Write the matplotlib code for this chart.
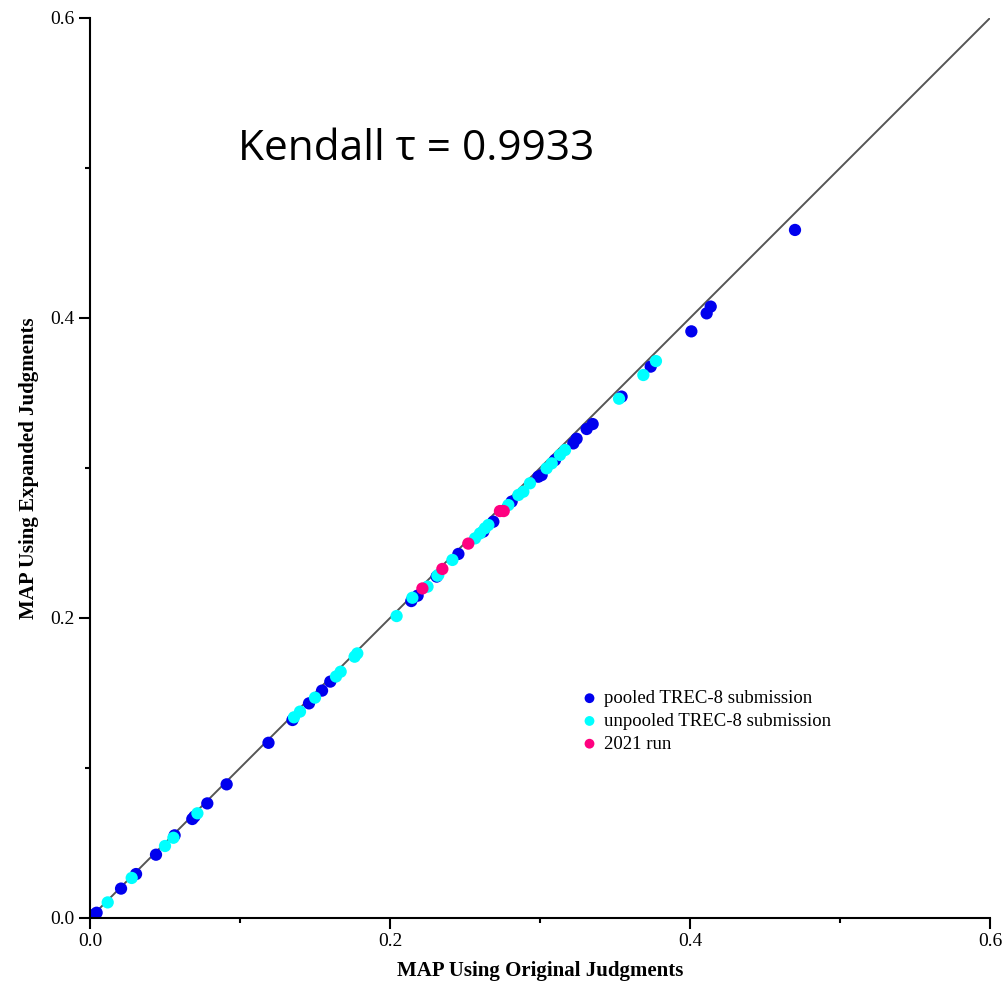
import matplotlib
matplotlib.use("Agg")
import matplotlib.pyplot as plt
from matplotlib.ticker import MultipleLocator

# pooled TREC-8 submissions (original MAP, expanded MAP)
pooled_x = [0.0027, 0.0044, 0.0207, 0.0307, 0.0440, 0.0564, 0.0682, 0.0696, 0.0782, 0.0911,
            0.1190, 0.1350, 0.1460, 0.1547, 0.1602, 0.2142, 0.2184, 0.2311, 0.2456, 0.2622,
            0.2689, 0.2811, 0.2989, 0.3011, 0.3100, 0.3222, 0.3244, 0.3311, 0.3351, 0.3544,
            0.3738, 0.4009, 0.4111, 0.4138, 0.4700]
pooled_y = [0.0022, 0.0035, 0.0196, 0.0293, 0.0422, 0.0551, 0.0660, 0.0676, 0.0764, 0.0891,
            0.1168, 0.1320, 0.1431, 0.1516, 0.1576, 0.2113, 0.2149, 0.2276, 0.2427, 0.2576,
            0.2642, 0.2776, 0.2942, 0.2953, 0.3053, 0.3164, 0.3195, 0.3260, 0.3293, 0.3476,
            0.3676, 0.3911, 0.4031, 0.4076, 0.4587]

# unpooled TREC-8 submissions
unpooled_x = [0.0118, 0.0278, 0.0500, 0.0556, 0.0716, 0.1360, 0.1400, 0.1500, 0.1640, 0.1671,
              0.1764, 0.1782, 0.2044, 0.2149, 0.2250, 0.2316, 0.2322, 0.2416, 0.2567, 0.2600,
              0.2633, 0.2656, 0.2789, 0.2856, 0.2889, 0.2933, 0.3044, 0.3078, 0.3133, 0.3167,
              0.3527, 0.3689, 0.3773]
unpooled_y = [0.0104, 0.0267, 0.0480, 0.0535, 0.0698, 0.1338, 0.1376, 0.1469, 0.1610, 0.1642,
              0.1742, 0.1764, 0.2013, 0.2135, 0.2209, 0.2282, 0.2287, 0.2387, 0.2531, 0.2564,
              0.2598, 0.2620, 0.2753, 0.2820, 0.2842, 0.2898, 0.2998, 0.3031, 0.3087, 0.3120,
              0.3462, 0.3620, 0.3713]

# 2021 runs
run2021_x = [0.2216, 0.2349, 0.2522, 0.2733, 0.2758]
run2021_y = [0.2197, 0.2327, 0.2496, 0.2713, 0.2713]

labels = ["pooled TREC-8 submission", "unpooled TREC-8 submission", "2021 run"]
colors = ["#0000ee", "#00ffff", "#ff0080"]
ticks_major = [0.0, 0.2, 0.4, 0.6]

serif = ["Liberation Serif", "DejaVu Serif"]

fig = plt.figure(figsize=(10.06, 9.81), dpi=100)
ax = fig.add_axes([90 / 1006, 63 / 981, 900 / 1006, 900 / 981])

ax.plot([0, 0.6], [0, 0.6], color="#555555", lw=1.4, zorder=1)
ax.scatter(pooled_x, pooled_y, s=78, color=colors[0], edgecolors="none", zorder=2, label=labels[0])
ax.scatter(unpooled_x, unpooled_y, s=78, color=colors[1], edgecolors="none", zorder=3, label=labels[1])
ax.scatter(run2021_x, run2021_y, s=78, color=colors[2], edgecolors="none", zorder=4, label=labels[2])

ax.set_xlim(0, 0.6)
ax.set_ylim(0, 0.6)
ax.set_xticks(ticks_major)
ax.set_yticks(ticks_major)
ax.set_xticklabels([f"{t:.1f}" for t in ticks_major], family=serif, fontsize=14)
ax.set_yticklabels([f"{t:.1f}" for t in ticks_major], family=serif, fontsize=14)
ax.xaxis.set_minor_locator(MultipleLocator(0.1))
ax.yaxis.set_minor_locator(MultipleLocator(0.1))
ax.tick_params(which="major", direction="out", length=8, width=1.5, pad=3)
ax.tick_params(which="minor", direction="out", length=3.5, width=1.5)
for s in ["top", "right"]:
    ax.spines[s].set_visible(False)
for s in ["left", "bottom"]:
    ax.spines[s].set_linewidth(1.5)

ax.set_xlabel("MAP Using Original Judgments", family=serif, fontsize=15, fontweight="bold", labelpad=8)
ax.set_ylabel("MAP Using Expanded Judgments", family=serif, fontsize=15, fontweight="bold", labelpad=8)

fig.text(238 / 1006, (981 - 160) / 981, "Kendall τ = 0.9933", family=["Open Sans", "DejaVu Sans"],
         fontsize=30.5, ha="left", va="baseline")

leg = ax.legend(loc="upper left", bbox_to_anchor=((582 - 90) / 900, (918 - 690) / 900),
                frameon=False, prop={"family": serif, "size": 13.5},
                handlelength=0.8, handletextpad=0.35, labelspacing=0.3, markerscale=0.8,
                borderaxespad=0, borderpad=0)

fig.savefig("out.png", dpi=100)
